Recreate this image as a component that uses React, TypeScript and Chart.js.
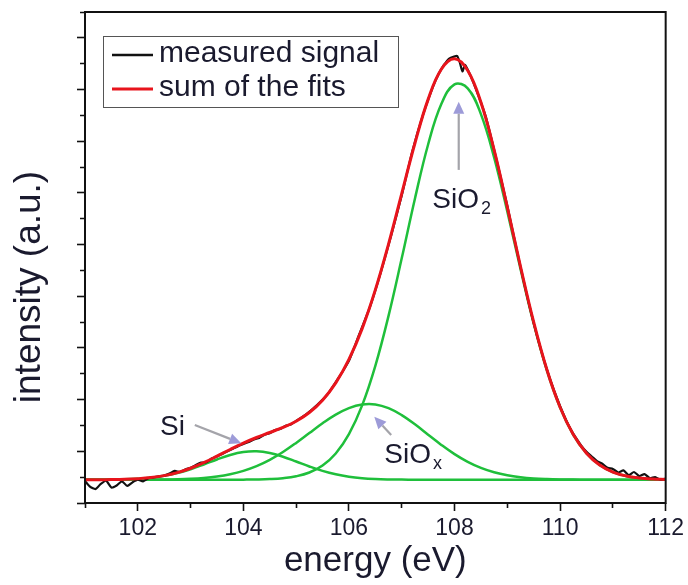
import React, { useEffect, useRef } from 'react';
import { Chart, registerables } from 'chart.js';

Chart.register(...registerables);

const FONT = "'Liberation Sans', Arial, Helvetica, sans-serif";
const TEXT = '#1a1a2e';
const GREEN = '#1fbf3b';
const RED = '#e8141c';
const BLACK = '#111111';

// Fit grid (eV)
const fitEnergy = [
  101.0, 101.25, 101.5, 101.75, 102.0, 102.25, 102.5, 102.75, 103.0, 103.25,
  103.5, 103.75, 104.0, 104.25, 104.5, 104.75, 105.0, 105.25, 105.5, 105.75,
  106.0, 106.25, 106.5, 106.75, 107.0, 107.25, 107.5, 107.75, 108.0, 108.25,
  108.5, 108.75, 109.0, 109.25, 109.5, 109.75, 110.0, 110.25, 110.5, 110.75,
  111.0, 111.25, 111.5, 111.75, 112.0,
];

// Fitted components (including the flat background)
const siFit = [
  0.901, 0.903, 0.907, 0.917, 0.939, 0.979, 1.049, 1.157, 1.306, 1.489,
  1.684, 1.856, 1.970, 1.998, 1.934, 1.792, 1.606, 1.413, 1.242, 1.109,
  1.017, 0.960, 0.928, 0.912, 0.905, 0.902, 0.9, 0.9, 0.9, 0.9,
  0.9, 0.9, 0.9, 0.9, 0.9, 0.9, 0.9, 0.9, 0.9, 0.9,
  0.9, 0.9, 0.9, 0.9, 0.9,
];

const siOxFit = [
  0.9, 0.9, 0.9, 0.901, 0.902, 0.905, 0.910, 0.920, 0.939, 0.972,
  1.027, 1.114, 1.244, 1.427, 1.670, 1.973, 2.326, 2.708, 3.086, 3.422,
  3.674, 3.811, 3.813, 3.669, 3.400, 3.043, 2.645, 2.249, 1.890, 1.591,
  1.357, 1.188, 1.072, 0.998, 0.952, 0.927, 0.913, 0.906, 0.903, 0.901,
  0.9, 0.9, 0.9, 0.9, 0.9,
];

const siO2Fit = [
  0.9, 0.9, 0.9, 0.9, 0.9, 0.9, 0.9, 0.9, 0.9, 0.9,
  0.900, 0.901, 0.904, 0.910, 0.925, 0.960, 1.034, 1.180, 1.451, 1.917,
  2.665, 3.777, 5.307, 7.240, 9.468, 11.777, 13.874, 15.436, 16.201, 16.046,
  15.048, 13.373, 11.280, 9.052, 6.943, 5.129, 3.692, 2.641, 1.924, 1.468,
  1.198, 1.047, 0.969, 0.930, 0.913,
];

const sumFit = [
  0.901, 0.903, 0.907, 0.917, 0.941, 0.984, 1.059, 1.177, 1.345, 1.561,
  1.811, 2.071, 2.318, 2.535, 2.729, 2.925, 3.166, 3.501, 3.979, 4.648,
  5.556, 6.748, 8.248, 10.021, 11.973, 13.922, 15.619, 16.785, 17.191, 16.737,
  15.505, 13.661, 11.452, 9.150, 6.995, 5.156, 3.705, 2.647, 1.927, 1.469,
  1.198, 1.047, 0.969, 0.930, 0.913,
];

// Measured spectrum
const measuredEnergy = [
  101.0, 101.1, 101.2, 101.3, 101.4, 101.5, 101.6, 101.7, 101.8, 101.9,
  102.0, 102.1, 102.2, 102.3, 102.4, 102.5, 102.6, 102.7, 102.8, 102.9,
  103.0, 103.1, 103.2, 103.3, 103.4, 103.5, 103.6, 103.7, 103.8, 103.9,
  104.0, 104.1, 104.2, 104.3, 104.4, 104.5, 104.6, 104.7, 104.8, 104.9,
  105.0, 105.2, 105.4, 105.6, 105.8, 106.0, 106.2, 106.4, 106.6, 106.8,
  107.0, 107.2, 107.4, 107.6, 107.7, 107.8, 107.9, 108.0, 108.05, 108.1,
  108.15, 108.2, 108.3, 108.4, 108.5, 108.6, 108.8, 109.0, 109.2, 109.4,
  109.6, 109.8, 110.0, 110.2, 110.4, 110.5, 110.6, 110.7, 110.8, 110.9,
  111.0, 111.1, 111.2, 111.3, 111.4, 111.5, 111.6, 111.7, 111.8, 111.9,
  112.0,
];
const measuredIntensity = [
  0.85, 0.62, 0.54, 0.74, 0.86, 0.6, 0.68, 0.84, 0.66, 0.80,
  0.90, 0.84, 0.96, 0.99, 1.03, 1.06, 1.14, 1.24, 1.20, 1.30,
  1.36, 1.47, 1.56, 1.58, 1.72, 1.80, 1.90, 2.00, 2.10, 2.20,
  2.28, 2.36, 2.46, 2.52, 2.64, 2.70, 2.82, 2.86, 2.99, 3.04,
  3.18, 3.45, 3.80, 4.22, 4.83, 5.50, 6.55, 7.60, 8.90, 10.35,
  11.90, 13.60, 15.00, 16.15, 16.60, 16.95, 17.20, 17.28, 17.30, 17.05,
  16.70, 16.95, 16.55, 16.05, 15.50, 14.90, 13.25, 11.50, 9.60, 7.80,
  6.20, 4.85, 3.75, 2.85, 2.22, 1.98, 1.80, 1.62, 1.52, 1.36,
  1.32, 1.18, 1.26, 1.08, 1.20, 1.04, 1.12, 0.96, 1.00, 0.90,
  0.95,
];

const xMin = 101;
const xMax = 112;
const yMin = 0;
const yMax = 19;
const labeledTicks = [102, 104, 106, 108, 110, 112];
const legendLabels = ['measured signal', 'sum of the fits'];

// Peak annotations (data coordinates)
const peakLabels = [
  { main: 'SiO', sub: '2', x: 107.58, y: 11.42 },
  { main: 'Si', sub: '', x: 102.42, y: 2.63 },
  { main: 'SiO', sub: 'x', x: 106.67, y: 1.55 },
];
const peakArrows = [
  { fromX: 108.08, fromY: 12.89, toX: 108.08, toY: 15.53 },
  { fromX: 103.08, fromY: 3.02, toX: 103.96, toY: 2.31 },
  { fromX: 106.8, fromY: 2.63, toX: 106.48, toY: 3.34 },
];

function drawArrow(ctx: CanvasRenderingContext2D, x1: number, y1: number, x2: number, y2: number) {
  const ang = Math.atan2(y2 - y1, x2 - x1);
  const hl = 12;
  const hw = 5.5;
  const bx = x2 - hl * Math.cos(ang);
  const by = y2 - hl * Math.sin(ang);
  ctx.strokeStyle = '#a4a4aa';
  ctx.lineWidth = 2.2;
  ctx.beginPath();
  ctx.moveTo(x1, y1);
  ctx.lineTo(bx, by);
  ctx.stroke();
  ctx.fillStyle = '#9d9bd8';
  ctx.beginPath();
  ctx.moveTo(x2, y2);
  ctx.lineTo(bx + hw * Math.sin(ang), by - hw * Math.cos(ang));
  ctx.lineTo(bx - hw * Math.sin(ang), by + hw * Math.cos(ang));
  ctx.closePath();
  ctx.fill();
}

const decorPlugin = {
  id: 'decor',
  afterDraw(chart: any) {
    const ctx: CanvasRenderingContext2D = chart.ctx;
    const ca = chart.chartArea;
    const xs = chart.scales.x;
    const ys = chart.scales.y;
    ctx.save();

    // frame
    ctx.strokeStyle = '#111';
    ctx.lineWidth = 2;
    ctx.strokeRect(ca.left, ca.top, ca.right - ca.left, ca.bottom - ca.top);

    // arrows
    peakArrows.forEach((a) => {
      drawArrow(
        ctx,
        xs.getPixelForValue(a.fromX),
        ys.getPixelForValue(a.fromY),
        xs.getPixelForValue(a.toX),
        ys.getPixelForValue(a.toY)
      );
    });

    // peak labels
    ctx.fillStyle = TEXT;
    ctx.textBaseline = 'alphabetic';
    ctx.textAlign = 'left';
    peakLabels.forEach((l) => {
      const px = xs.getPixelForValue(l.x);
      const py = ys.getPixelForValue(l.y);
      ctx.font = `28px ${FONT}`;
      ctx.fillText(l.main, px, py);
      if (l.sub) {
        const w = ctx.measureText(l.main).width;
        ctx.font = `18px ${FONT}`;
        ctx.fillText(l.sub, px + w + 2, py + 6);
      }
    });

    // legend
    const lx = ca.left + 18;
    const ly = ca.top + 24;
    const lw = 295;
    const lh = 71;
    ctx.fillStyle = '#ffffff';
    ctx.fillRect(lx, ly, lw, lh);
    ctx.strokeStyle = '#555';
    ctx.lineWidth = 1;
    ctx.strokeRect(lx + 0.5, ly + 0.5, lw, lh);
    legendLabels.forEach((name, i) => {
      const d = chart.data.datasets.find((ds: any) => ds.label === name);
      if (!d) return;
      const rowY = ly + 19 + i * 34;
      ctx.strokeStyle = d.borderColor;
      ctx.lineWidth = name === 'sum of the fits' ? 3 : 2.5;
      ctx.beginPath();
      ctx.moveTo(lx + 9, rowY);
      ctx.lineTo(lx + 50, rowY);
      ctx.stroke();
      ctx.fillStyle = TEXT;
      ctx.font = `30px ${FONT}`;
      ctx.textBaseline = 'alphabetic';
      ctx.fillText(name, lx + 56, rowY + 7);
    });

    // y axis title
    ctx.save();
    ctx.translate(30, 287);
    ctx.rotate(-Math.PI / 2);
    ctx.fillStyle = TEXT;
    ctx.font = `37px ${FONT}`;
    ctx.textAlign = 'center';
    ctx.textBaseline = 'middle';
    ctx.fillText('intensity (a.u.)', 0, 0);
    ctx.restore();

    ctx.restore();
  },
};

const isMajor = (c: any) => c.tick && Math.round(c.tick.value) % 2 === 0;

export default function App() {
  const ref = useRef<HTMLCanvasElement | null>(null);

  useEffect(() => {
    if (!ref.current) return;
    const toXY = (xsArr: number[], ysArr: number[]) => xsArr.map((x, i) => ({ x, y: ysArr[i] }));
    const chart = new Chart(ref.current, {
      type: 'line',
      data: {
        datasets: [
          {
            label: 'sum of the fits',
            data: toXY(fitEnergy, sumFit),
            borderColor: RED,
            borderWidth: 3,
            pointRadius: 0,
            tension: 0.4,
            fill: false,
            order: 0,
          },
          {
            label: 'measured signal',
            data: toXY(measuredEnergy, measuredIntensity),
            borderColor: BLACK,
            borderWidth: 2.2,
            pointRadius: 0,
            tension: 0.2,
            fill: false,
            order: 1,
          },
          {
            label: 'SiO2',
            data: toXY(fitEnergy, siO2Fit),
            borderColor: GREEN,
            borderWidth: 2.5,
            pointRadius: 0,
            tension: 0.4,
            fill: false,
            order: 2,
          },
          {
            label: 'SiOx',
            data: toXY(fitEnergy, siOxFit),
            borderColor: GREEN,
            borderWidth: 2.5,
            pointRadius: 0,
            tension: 0.4,
            fill: false,
            order: 2,
          },
          {
            label: 'Si',
            data: toXY(fitEnergy, siFit),
            borderColor: GREEN,
            borderWidth: 2.5,
            pointRadius: 0,
            tension: 0.4,
            fill: false,
            order: 2,
          },
        ],
      },
      options: {
        responsive: false,
        devicePixelRatio: 1,
        animation: false,
        events: [],
        layout: { padding: { left: 0, top: 12, right: 21, bottom: 0 } },
        plugins: {
          legend: { display: false },
          tooltip: { enabled: false },
        },
        scales: {
          x: {
            type: 'linear',
            min: xMin,
            max: xMax,
            border: { display: false },
            grid: {
              drawOnChartArea: false,
              drawTicks: true,
              tickLength: 8,
              tickColor: '#111',
              tickWidth: 1.6,
              tickBorderDash: (c: any) => (isMajor(c) ? [] : [5, 20]),
            },
            ticks: {
              stepSize: 1,
              autoSkip: false,
              maxRotation: 0,
              padding: 4,
              color: TEXT,
              font: { family: FONT, size: 23 },
              callback: (v: any) => (labeledTicks.includes(Number(v)) ? String(v) : ''),
            },
            title: {
              display: true,
              text: 'energy (eV)',
              color: TEXT,
              font: { family: FONT, size: 35, lineHeight: 1 },
              padding: { top: 0, bottom: 6 },
            },
            afterFit: (s: any) => {
              s.height = 82;
            },
          },
          y: {
            type: 'linear',
            min: yMin,
            max: yMax,
            border: { display: false },
            grid: {
              drawOnChartArea: false,
              drawTicks: true,
              tickLength: 8,
              tickColor: '#111',
              tickWidth: 1.6,
              tickBorderDash: (c: any) => (isMajor(c) ? [] : [0, 3, 5, 20]),
            },
            ticks: { stepSize: 1, display: false },
            afterFit: (s: any) => {
              s.width = 85;
            },
          },
        },
      },
      plugins: [decorPlugin],
    });
    return () => chart.destroy();
  }, []);

  return (
    <div style={{ position: 'absolute', left: 0, top: 0, width: 688, height: 585, background: '#fff' }}>
      <canvas ref={ref} width={688} height={585} style={{ display: 'block' }} />
    </div>
  );
}
